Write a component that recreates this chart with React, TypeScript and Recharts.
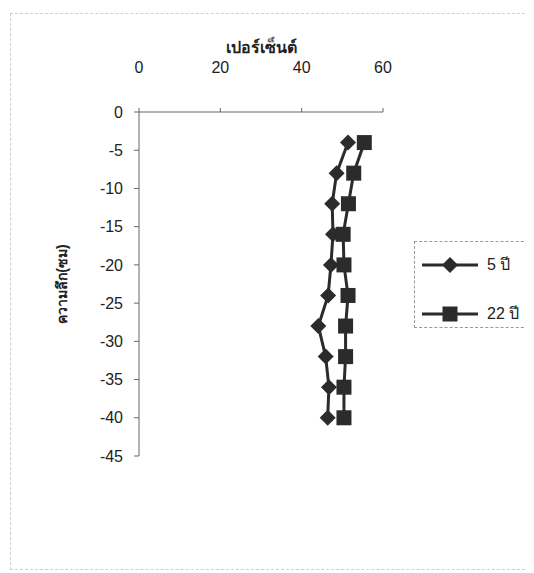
import React from 'react';
import { ScatterChart, Scatter, XAxis, YAxis, Legend } from 'recharts';

// Soil depth (cm, negative downward) and percentage readings for two stand ages
const depths = [-4, -8, -12, -16, -20, -24, -28, -32, -36, -40];
const years5 = [51.4, 48.6, 47.5, 47.7, 47.2, 46.5, 44.1, 45.9, 46.7, 46.4];
const years22 = [55.4, 52.8, 51.5, 50.2, 50.4, 51.4, 50.8, 50.8, 50.4, 50.4];

const percentTicks = [0, 20, 40, 60];
const depthTicks = [0, -5, -10, -15, -20, -25, -30, -35, -40, -45];

const seriesNames = ['5 ปี', '22 ปี'];
const xTitle = 'เปอร์เซ็นต์';
const yTitle = 'ความลึก(ซม)';

const series5 = depths.map((d, i) => ({ pct: years5[i], depth: d }));
const series22 = depths.map((d, i) => ({ pct: years22[i], depth: d }));

const INK = '#2b2b2b';
const FONT = '"Liberation Sans", Arial, "Noto Sans", sans-serif';

const Diamond = (props: any) => {
  const { cx, cy } = props;
  const r = 8;
  return (
    <path
      d={`M${cx},${cy - r}L${cx + r},${cy}L${cx},${cy + r}L${cx - r},${cy}Z`}
      fill={INK}
    />
  );
};

const Square = (props: any) => {
  const { cx, cy } = props;
  const h = 7.5;
  return <rect x={cx - h} y={cy - h} width={h * 2} height={h * 2} fill={INK} />;
};

const LegendBox = () => (
  <div style={{ fontFamily: FONT, fontSize: 16, color: '#222' }}>
    {seriesNames.map((name, i) => (
      <div
        key={name}
        style={{ position: 'absolute', left: 6, top: i === 0 ? 10 : 59, display: 'flex', alignItems: 'center' }}
      >
        <svg width={58} height={18}>
          <line x1={1} y1={9} x2={57} y2={9} stroke={INK} strokeWidth={3} />
          {i === 0 ? <Diamond cx={29} cy={9} /> : <Square cx={29} cy={9} />}
        </svg>
        <span style={{ marginLeft: 8 }}>{name}</span>
      </div>
    ))}
  </div>
);

const YTitle = (props: any) => {
  const { viewBox } = props;
  const x = viewBox.x + 3;
  const y = viewBox.y + viewBox.height / 2;
  return (
    <text
      x={x}
      y={y}
      transform={`rotate(-90 ${x} ${y})`}
      textAnchor="middle"
      dominantBaseline="central"
      fontFamily={FONT}
      fontSize={14}
      fontWeight="bold"
      fill="#222"
    >
      {yTitle}
    </text>
  );
};

export default function App() {
  return (
    <div style={{ position: 'relative', width: 526, height: 565 }}>
      <div
        style={{
          position: 'absolute',
          left: 2,
          top: 5,
          width: 540,
          height: 557,
          borderTop: '1px dashed #cfcfcf',
          borderLeft: '1px dashed #cfcfcf',
          borderBottom: '1px dashed #cfcfcf',
          boxSizing: 'border-box',
        }}
      />
      <ScatterChart
        width={526}
        height={565}
        margin={{ top: 64, right: 151, bottom: 117, left: 51 }}
        style={{ position: 'absolute', left: 0, top: 0 }}
      >
        <XAxis
          type="number"
          dataKey="pct"
          orientation="top"
          domain={[0, 60]}
          ticks={percentTicks}
          height={40}
          tickSize={4}
          tickMargin={35}
          stroke="#666"
          tick={{ fill: '#222', fontSize: 16, fontFamily: FONT }}
          label={{
            value: xTitle,
            position: 'top',
            offset: 19,
            fill: '#222',
            fontSize: 16,
            fontWeight: 'bold',
            fontFamily: FONT,
          }}
        />
        <YAxis
          type="number"
          dataKey="depth"
          domain={[-45, 0]}
          ticks={depthTicks}
          width={80}
          tickSize={5}
          tickMargin={11}
          stroke="#666"
          tick={{ fill: '#222', fontSize: 16, fontFamily: FONT }}
          label={<YTitle />}
        />
        <Scatter
          name={seriesNames[0]}
          data={series5}
          fill={INK}
          shape={<Diamond />}
          line={{ stroke: INK, strokeWidth: 3 }}
          lineType="joint"
          isAnimationActive={false}
        />
        <Scatter
          name={seriesNames[1]}
          data={series22}
          fill={INK}
          shape={<Square />}
          line={{ stroke: INK, strokeWidth: 3 }}
          lineType="joint"
          isAnimationActive={false}
        />
        <Legend
          layout="vertical"
          verticalAlign="middle"
          align="center"
          content={<LegendBox />}
          wrapperStyle={{
            left: 406,
            top: 233,
            width: 115,
            height: 87,
            border: '1px dashed #999',
            boxSizing: 'border-box',
          }}
        />
      </ScatterChart>
    </div>
  );
}
